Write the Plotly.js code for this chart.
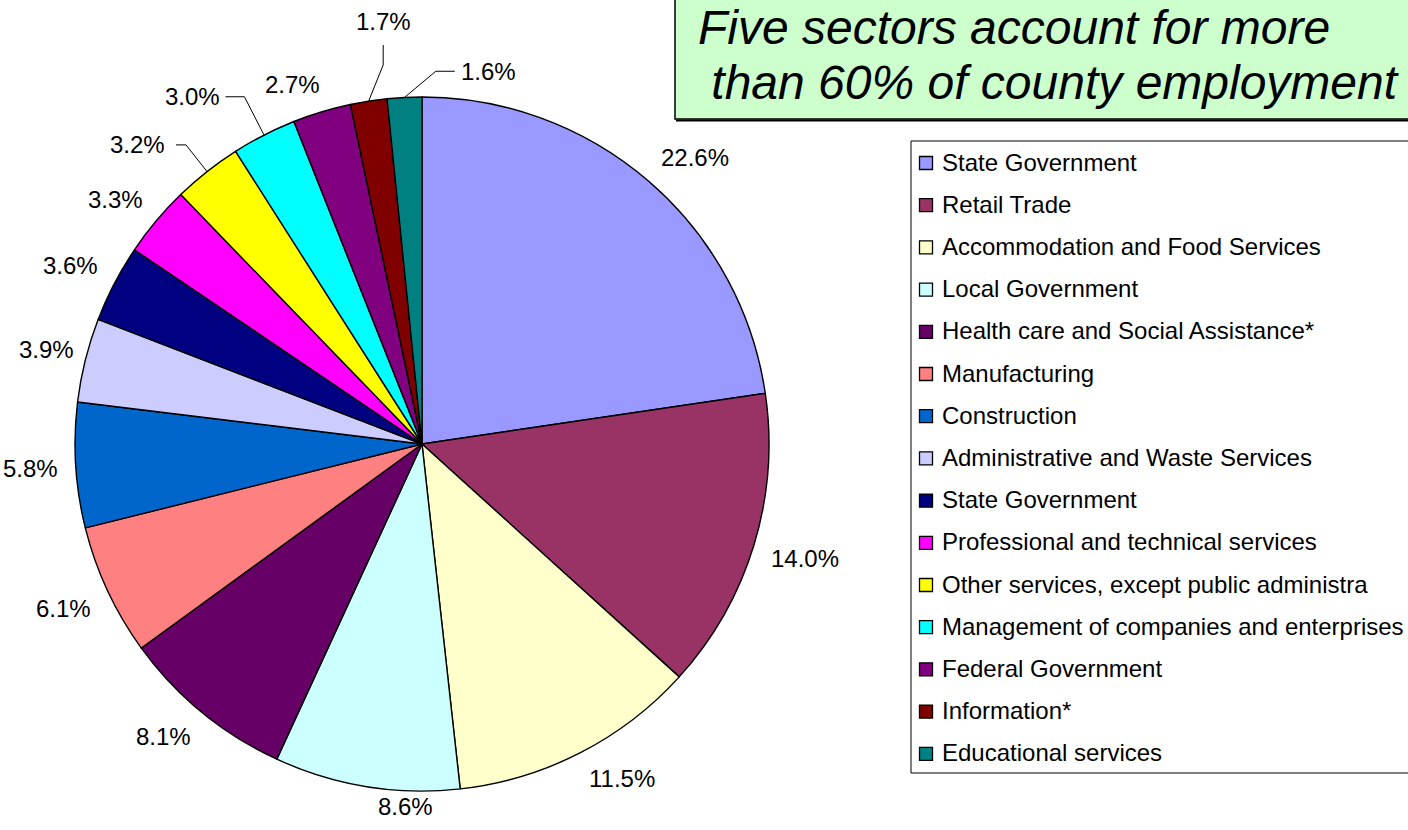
<!DOCTYPE html>
<html>
<head>
<meta charset="utf-8">
<script src="https://cdn.plot.ly/plotly-3.0.1.min.js"></script>
<style>
  html, body { margin: 0; padding: 0; background: #ffffff; }
  #chart { width: 1408px; height: 830px; }
</style>
</head>
<body>
<div id="chart"></div>
<script>
// ---- DATA ----
const categories = [
  "State Government",
  "Retail Trade",
  "Accommodation and Food Services",
  "Local Government",
  "Health care and Social Assistance*",
  "Manufacturing",
  "Construction",
  "Administrative and Waste Services",
  "State Government",
  "Professional and technical services",
  "Other services, except public administra",
  "Management of companies and enterprises",
  "Federal Government",
  "Information*",
  "Educational services"
];
const shares = [22.6, 14.0, 11.5, 8.6, 8.1, 6.1, 5.8, 3.9, 3.6, 3.3, 3.2, 3.0, 2.7, 1.7, 1.6];
const titleLines = ["Five sectors account for more", " than 60% of county employment"];

// ---- STYLE ----
const colors = ["#9999FF", "#993366", "#FFFFCC", "#CCFFFF", "#660066", "#FF8080", "#0066CC",
  "#CCCCFF", "#000080", "#FF00FF", "#FFFF00", "#00FFFF", "#800080", "#800000", "#008080"];
const W = 1408, H = 830;
const CX = 422, CY = 444, R = 347;
const FONT = "Liberation Sans, Arial, Helvetica, sans-serif";
const LABEL_SIZE = 24;
const LABEL_GAP = 18;
const labelNudge = {3: {da: -7, dr: -12}, 7: {da: 0, dr: -6}};   // label placement tweaks
const leaders = {                              // label placement with leader lines
  10: {dr: 34, da: 0, seg: [-10, 0], anchor: "right", gap: 9},
  11: {dr: 43, da: 0, seg: [-19, 0], anchor: "right", gap: 3},
  13: {dr: 34, da: 3, seg: [0, -20], anchor: "bottom", gap: 8},
  14: {dr: 26, da: 5, seg: [19, 0], anchor: "left", gap: 4}
};

const px = x => x / W;
const py = y => 1 - y / H;
const clamp = (v, a, b) => Math.max(a, Math.min(b, v));

const total = shares.reduce((a, b) => a + b, 0);
const charW = {"0":.556,"1":.556,"2":.556,"3":.556,"4":.556,"5":.556,"6":.556,"7":.556,"8":.556,"9":.556,".":.278,"%":.889};
function textWidth(s, size) { let w = 0; for (const c of s) w += (charW[c] || .556); return w * size; }

const annotations = [];
const shapes = [];

// title box
shapes.push({type: "rect", xref: "paper", yref: "paper", x0: px(675), x1: px(1430), y0: py(-3), y1: py(119),
  fillcolor: "#CCFFCC", line: {color: "#000000", width: 1.5}, layer: "below"});
shapes.push({type: "line", xref: "paper", yref: "paper", x0: px(676), x1: px(1430), y0: py(120.5), y1: py(120.5),
  line: {color: "#000000", width: 2}});
annotations.push({xref: "paper", yref: "paper", x: px(696), y: py(27), xanchor: "left", yanchor: "middle",
  text: "<i>" + titleLines[0] + "</i>", showarrow: false, font: {family: FONT, size: 48, color: "#000000"}});
annotations.push({xref: "paper", yref: "paper", x: px(696), y: py(83), xanchor: "left", yanchor: "middle",
  text: "<i>" + titleLines[1].replace(/^ /, "\u00A0") + "</i>", showarrow: false,
  font: {family: FONT, size: 48, color: "#000000"}});

// percentage labels
let cum = 0;
shares.forEach((v, i) => {
  const midDeg = (cum + v / 2) / total * 360;
  cum += v;
  const txt = v.toFixed(1) + "%";
  const font = {family: FONT, size: LABEL_SIZE, color: "#000000"};
  if (leaders[i]) {
    const L = leaders[i];
    const a0 = midDeg * Math.PI / 180;
    const ex = CX + R * Math.sin(a0), ey = CY - R * Math.cos(a0);
    const a1 = (midDeg + L.da) * Math.PI / 180;
    const bx = CX + (R + L.dr) * Math.sin(a1), by = CY - (R + L.dr) * Math.cos(a1);
    const fx = bx + L.seg[0], fy = by + L.seg[1];
    shapes.push({type: "path", xref: "paper", yref: "paper",
      path: `M ${px(ex)} ${py(ey)} L ${px(bx)} ${py(by)} L ${px(fx)} ${py(fy)}`,
      line: {color: "#000000", width: 1}});
    let ann = {xref: "paper", yref: "paper", text: txt, showarrow: false, font: font};
    if (L.anchor === "right") Object.assign(ann, {x: px(fx - L.gap), y: py(fy), xanchor: "right", yanchor: "middle"});
    else if (L.anchor === "left") Object.assign(ann, {x: px(fx + L.gap), y: py(fy), xanchor: "left", yanchor: "middle"});
    else Object.assign(ann, {x: px(fx), y: py(fy - L.gap), xanchor: "center", yanchor: "bottom"});
    annotations.push(ann);
  } else {
    const n = labelNudge[i] || {da: 0, dr: 0};
    const a = (midDeg + n.da) * Math.PI / 180;
    const dx = Math.sin(a), dy = -Math.cos(a);
    const w = textWidth(txt, LABEL_SIZE), h = 20;
    const rr = R + LABEL_GAP + n.dr;
    const x = CX + dx * rr + (w / 2) * clamp(dx * 3, -1, 1);
    const y = CY + dy * rr + (h / 2) * clamp(dy * 3, -1, 1);
    annotations.push({xref: "paper", yref: "paper", x: px(x), y: py(y), xanchor: "center", yanchor: "middle",
      text: txt, showarrow: false, font: font});
  }
});

// legend
shapes.push({type: "rect", xref: "paper", yref: "paper", x0: px(911), x1: px(1430), y0: py(141), y1: py(773),
  fillcolor: "#FFFFFF", line: {color: "#000000", width: 1}, layer: "below"});
const LEG_Y0 = 163, LEG_STEP = 42.2, SQ = 13;
categories.forEach((c, i) => {
  const yc = LEG_Y0 + i * LEG_STEP;
  shapes.push({type: "rect", xref: "paper", yref: "paper", x0: px(919.5), x1: px(919.5 + SQ),
    y0: py(yc - SQ / 2), y1: py(yc + SQ / 2), fillcolor: colors[i], line: {color: "#000000", width: 1.3}});
  annotations.push({xref: "paper", yref: "paper", x: px(940), y: py(yc - 1), xanchor: "left", yanchor: "middle",
    text: c, showarrow: false, font: {family: FONT, size: 24, color: "#000000"}});
});

const trace = {
  type: "pie",
  values: shares,
  labels: categories.map((c, i) => i + ": " + c),
  hovertext: categories,
  hoverinfo: "text+percent",
  sort: false,
  direction: "clockwise",
  rotation: 0,
  textinfo: "none",
  showlegend: false,
  marker: {colors: colors, line: {color: "#000000", width: 1.4}},
  domain: {x: [px(CX - R), px(CX + R)], y: [py(CY + R), py(CY - R)]}
};

const layout = {
  width: W, height: H,
  margin: {l: 0, r: 0, t: 0, b: 0},
  paper_bgcolor: "#FFFFFF",
  plot_bgcolor: "#FFFFFF",
  showlegend: false,
  shapes: shapes,
  annotations: annotations,
  font: {family: FONT}
};

Plotly.newPlot("chart", [trace], layout, {displayModeBar: false, staticPlot: true});
</script>
</body>
</html>
